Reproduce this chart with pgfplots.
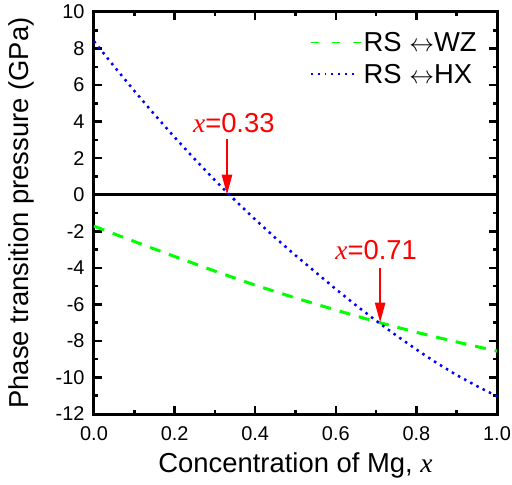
\documentclass[border=0pt]{standalone}
\usepackage{fontspec}
\setmainfont{Liberation Sans}
\newfontfamily\serif{Liberation Serif}
\usepackage{pgfplots}
\pgfplotsset{compat=1.18}
\usetikzlibrary{arrows.meta}
\definecolor{wzgreen}{RGB}{0,255,0}
\definecolor{hxblue}{RGB}{0,0,255}
\definecolor{arrred}{RGB}{255,0,0}
\begin{document}
\begin{tikzpicture}
\useasboundingbox (-94bp,-71bp) rectangle (418bp,414bp);
\begin{axis}[
  at={(0,0)}, anchor=south west,
  scale only axis, width=403bp, height=402bp,
  xmin=0, xmax=1, ymin=-12, ymax=10,
  xtick={0,0.2,...,1.0}, ytick={-12,-10,...,10},
  minor x tick num=1, minor y tick num=1,
  tick align=inside, tick pos=both,
  major tick length=8bp, minor tick length=4bp,
  every tick/.style={black, line width=2.5bp},
  axis line style={line width=3bp},
  /pgf/number format/assume math mode=true,
  xticklabel style={/pgf/number format/.cd, fixed, fixed zerofill, precision=1, /tikz/.cd, yshift=-9bp},
  yticklabel style={/pgf/number format/.cd, fixed, /tikz/.cd, xshift=-6bp},
  tick label style={font=\fontsize{20}{22}\selectfont, black},
  xlabel={Concentration of Mg, {\serif\itshape x}},
  ylabel={Phase transition pressure (GPa)},
  label style={font=\fontsize{27.5}{32}\selectfont},
  xlabel style={at={(axis description cs:0.5,-0.127)}, anchor=center},
  ylabel style={at={(axis description cs:-0.179,0.5)}, anchor=center, rotate=0},
  legend style={at={(rel axis cs:0.955,0.955)}, anchor=north east, draw=none, fill=none,
    font=\fontsize{27.5}{32}\selectfont, inner sep=0pt, row sep=7bp},
  legend cell align=left,
]
\addplot[black, line width=2.5bp, forget plot] coordinates {(0,0) (1,0)};
\addplot[wzgreen, line width=3bp, dash pattern=on 11bp off 9bp,
  legend image code/.code={\draw[wzgreen, line width=1.3bp, dash pattern=on 8bp off 13bp] (0bp,0bp) -- (50bp,0bp);}]
  coordinates {
  (0.0,-1.72) (0.1,-2.56) (0.2,-3.38) (0.3,-4.18) (0.4,-4.95) (0.5,-5.65)
  (0.6,-6.31) (0.7,-6.95) (0.8,-7.53) (0.9,-8.06) (1.0,-8.56)};
\addlegendentry{RS $\leftrightarrow$WZ}
\addplot[hxblue, line width=2.5bp, dash pattern=on 2.5bp off 4.5bp,
  legend image code/.code={\draw[hxblue, line width=1.6bp, dash pattern=on 1.8bp off 5bp] (0bp,0bp) -- (46bp,0bp);}]
  coordinates {
  (0.00,8.40) (0.05,7.02) (0.10,5.685) (0.15,4.39) (0.20,3.145) (0.25,1.945)
  (0.30,0.795) (0.35,-0.305) (0.40,-1.355) (0.45,-2.36) (0.50,-3.32) (0.55,-4.24)
  (0.60,-5.165) (0.65,-6.05) (0.70,-6.895) (0.75,-7.70) (0.80,-8.47) (0.85,-9.20)
  (0.90,-9.87) (0.95,-10.47) (1.00,-11.03)};
\addlegendentry{RS $\leftrightarrow$HX}
\draw[arrred, line width=2.5bp, -{Triangle[length=20bp,width=10bp]}] (axis cs:0.33,3.03) -- (axis cs:0.33,0);
\draw[arrred, line width=2.5bp, -{Triangle[length=20bp,width=10bp]}] (axis cs:0.71,-4.03) -- (axis cs:0.71,-7.0);
\node[arrred, anchor=base, font=\fontsize{27.5}{32}\selectfont, inner sep=0pt] at (axis cs:0.347,3.43) {{\serif\itshape x}=0.33};
\node[arrred, anchor=base, font=\fontsize{27.5}{32}\selectfont, inner sep=0pt] at (axis cs:0.70,-3.54) {{\serif\itshape x}=0.71};
\end{axis}
\end{tikzpicture}
\end{document}
